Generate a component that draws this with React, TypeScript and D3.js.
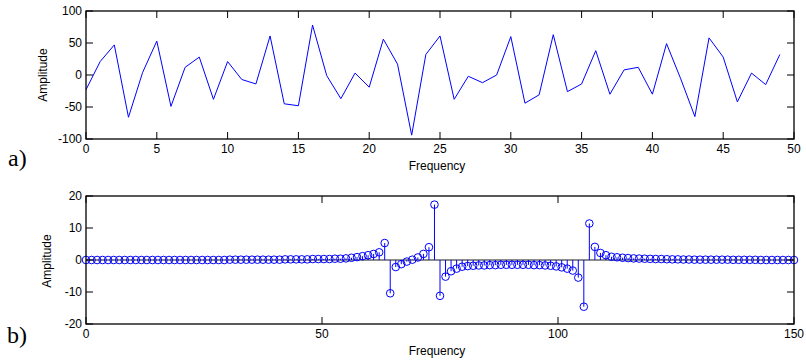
import React from "react";
import * as d3 from "d3";

// ---- data ----
const topFreq: number[] = Array.from({ length: 50 }, (_, i) => i);
const topAmp: number[] = [
  -23, 21, 47, -66, 4, 53, -49, 12, 28, -38,
  21, -7, -14, 61, -45, -48, 78, -1, -37, 3,
  -19, 56, 17, -94, 32, 61, -38, -2, -12, 0,
  60, -44, -31, 63, -26, -14, 38, -30, 8, 12,
  -30, 49, -6, -65, 58, 28, -42, 3, -15, 32,
];
const topXTicks: number[] = [0, 5, 10, 15, 20, 25, 30, 35, 40, 45, 50];
const topYTicks: number[] = [-100, -50, 0, 50, 100];

const botAmp: number[] = [
  0, 0, 0, 0, 0, 0, 0, 0, 0, 0,
  0, 0, 0, 0, 0, 0, 0, 0, 0, 0,
  0, 0, 0, 0, 0, 0, 0.1, 0.1, 0.1, 0.1,
  0.1, 0.1, 0.1, 0.1, 0.1, 0.1, 0.2, 0.2, 0.2, 0.2,
  0.2, 0.3, 0.3, 0.3, 0.3, 0.4, 0.4, 0.5, 0.7, 0.9,
  1.2, 1.5, 1.9, 2.4, 5.3, -10.4, -2.2, -1.3, -0.5, 0.1,
  0.8, 1.9, 4.0, 17.3, -11.2, -5.2, -3.5, -2.7, -2.1, -1.9,
  -1.8, -1.7, -1.7, -1.6, -1.6, -1.5, -1.5, -1.5, -1.5, -1.5,
  -1.5, -1.6, -1.6, -1.7, -1.8, -2.0, -2.3, -2.7, -3.3, -5.5,
  -14.6, 11.4, 4.1, 2.2, 1.5, 1.0, 0.85, 0.7, 0.6, 0.5,
  0.45, 0.4, 0.35, 0.3, 0.3, 0.25, 0.2, 0.2, 0.15, 0.15,
  0.1, 0.1, 0.1, 0.1, 0.1, 0.1, 0.1, 0.05, 0.05, 0.05,
  0.05, 0.05, 0, 0, 0, 0, 0, 0, 0,
];
const botFreq: number[] = botAmp.map((_, i) => (i * 150) / 128);
const botXTicks: number[] = [0, 50, 100, 150];
const botYTicks: number[] = [-20, -10, 0, 10, 20];

const FONT = "'Liberation Sans', Arial, sans-serif";
const SERIF = "'Liberation Serif', 'Times New Roman', serif";
const BLUE = "#0000ff";
const TICK = 7;

type AxesProps = {
  x: d3.ScaleLinear<number, number>;
  y: d3.ScaleLinear<number, number>;
  xTicks: number[];
  yTicks: number[];
};

function Axes({ x, y, xTicks, yTicks }: AxesProps) {
  const [x0, x1] = x.range();
  const [y0, y1] = y.range(); // y0 bottom, y1 top
  return (
    <g>
      {xTicks.map((t) => (
        <g key={"x" + t}>
          <line x1={x(t)} x2={x(t)} y1={y0} y2={y0 - TICK} stroke="#000" strokeWidth={1} />
          <line x1={x(t)} x2={x(t)} y1={y1} y2={y1 + TICK} stroke="#000" strokeWidth={1} />
          <text x={x(t)} y={y0 + 14} textAnchor="middle" fontFamily={FONT} fontSize={12} fill="#000">
            {t}
          </text>
        </g>
      ))}
      {yTicks.map((t) => (
        <g key={"y" + t}>
          <line x1={x0} x2={x0 + TICK} y1={y(t)} y2={y(t)} stroke="#000" strokeWidth={1} />
          <line x1={x1} x2={x1 - TICK} y1={y(t)} y2={y(t)} stroke="#000" strokeWidth={1} />
          <text x={x0 - 4} y={y(t) + 4.3} textAnchor="end" fontFamily={FONT} fontSize={12} fill="#000">
            {t}
          </text>
        </g>
      ))}
      <rect x={x0} y={y1} width={x1 - x0} height={y0 - y1} fill="none" stroke="#000" strokeWidth={1.3} />
    </g>
  );
}

export default function App() {
  const xTop = d3.scaleLinear().domain([0, 50]).range([86, 794]);
  const yTop = d3.scaleLinear().domain([-100, 100]).range([139, 11]);
  const xBot = d3.scaleLinear().domain([0, 150]).range([86, 794]);
  const yBot = d3.scaleLinear().domain([-20, 20]).range([324, 196]);

  const linePath =
    d3
      .line<number>()
      .x((_, i) => xTop(topFreq[i]))
      .y((d) => yTop(d))(topAmp) || "";

  return (
    <svg
      width={806}
      height={362}
      style={{ position: "absolute", left: 0, top: 0, background: "#fff" }}
    >
      <rect x={0} y={0} width={806} height={362} fill="#fff" />
      {/* top plot */}
      <path d={linePath} fill="none" stroke={BLUE} strokeWidth={1} />
      <Axes x={xTop} y={yTop} xTicks={topXTicks} yTicks={topYTicks} />
      <text x={437} y={169.5} textAnchor="middle" fontFamily={FONT} fontSize={12}>
        Frequency
      </text>
      <text
        transform="translate(47,75) rotate(-90)"
        textAnchor="middle"
        fontFamily={FONT}
        fontSize={12}
      >
        Amplitude
      </text>
      <text x={8} y={166} fontFamily={SERIF} fontSize={24}>
        a)
      </text>

      {/* bottom plot */}
      <line x1={86} x2={794} y1={yBot(0)} y2={yBot(0)} stroke="#666" strokeWidth={1.3} />
      {botAmp.map((v, i) => (
        <line
          key={"s" + i}
          x1={xBot(botFreq[i])}
          x2={xBot(botFreq[i])}
          y1={yBot(0)}
          y2={yBot(v)}
          stroke={BLUE}
          strokeWidth={1}
        />
      ))}
      {botAmp.map((v, i) => (
        <circle
          key={"c" + i}
          cx={xBot(botFreq[i])}
          cy={yBot(v)}
          r={3.8}
          fill="none"
          stroke={BLUE}
          strokeWidth={1}
        />
      ))}
      <Axes x={xBot} y={yBot} xTicks={botXTicks} yTicks={botYTicks} />
      <text x={437} y={354.5} textAnchor="middle" fontFamily={FONT} fontSize={12}>
        Frequency
      </text>
      <text
        transform="translate(51,261) rotate(-90)"
        textAnchor="middle"
        fontFamily={FONT}
        fontSize={12}
      >
        Amplitude
      </text>
      <text x={7} y={343} fontFamily={SERIF} fontSize={24}>
        b)
      </text>
    </svg>
  );
}
